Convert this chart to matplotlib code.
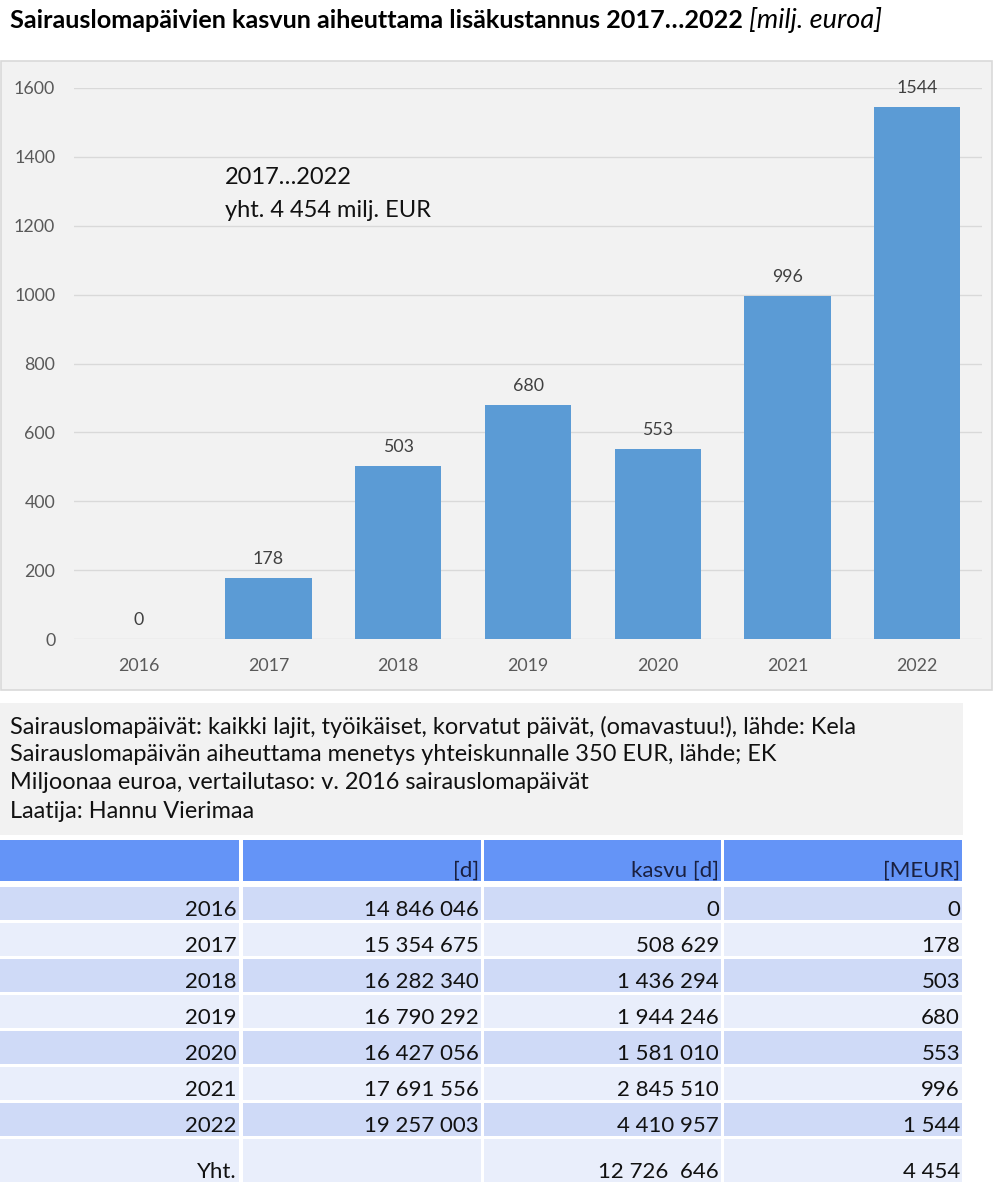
import matplotlib
matplotlib.use('Agg')
from matplotlib import pyplot as plt
from matplotlib.patches import Rectangle

plt.rcParams['font.family'] = ['Lato', 'DejaVu Sans']

# chart data
years = ['2016', '2017', '2018', '2019', '2020', '2021', '2022']
cost_meur = [0, 178, 503, 680, 553, 996, 1544]
yticks = [0, 200, 400, 600, 800, 1000, 1200, 1400, 1600]

# table data
sick_days = [14846046, 15354675, 16282340, 16790292, 16427056, 17691556, 19257003]
growth_days = [0, 508629, 1436294, 1944246, 1581010, 2845510, 4410957]
table_header = ['', '[d]', 'kasvu [d]', '[MEUR]']
total_row = ['Yht.', '', '12 726  646', '4 454']

title_bold = 'Sairauslomapäivien kasvun aiheuttama lisäkustannus 2017…2022'
title_unit = '[milj. euroa]'
note_lines = ['Sairauslomapäivät: kaikki lajit, työikäiset, korvatut päivät, (omavastuu!), lähde: Kela',
              'Sairauslomapäivän aiheuttama menetys yhteiskunnalle 350 EUR, lähde; EK',
              'Miljoonaa euroa, vertailutaso: v. 2016 sairauslomapäivät',
              'Laatija: Hannu Vierimaa']
box_text = ['2017…2022', 'yht. 4 454 milj. EUR']


def fmt(v):
    return f'{v:,}'.replace(',', ' ')


W, H = 998, 1191
fig = plt.figure(figsize=(W / 100, H / 100), dpi=100)

# background axes in pixel coordinates
bg = fig.add_axes([0, 0, 1, 1])
bg.set_xlim(0, W)
bg.set_ylim(H, 0)
bg.axis('off')

# title
t = bg.text(10, 28, title_bold, fontsize=18.2, fontweight='bold', va='baseline', ha='left')
fig.canvas.draw()
bb = t.get_window_extent()
bg.text(bb.x1 + 6, 28, title_unit, fontsize=19.5, fontstyle='italic', va='baseline', ha='left')

# chart frame
bg.add_patch(Rectangle((0.5, 61), 991.5, 629, facecolor='#f2f2f2', edgecolor='#d9d9d9', lw=1.2))

# bar chart
ax = fig.add_axes([74 / W, 1 - 639 / H, 908 / W, 551 / H])
ax.set_facecolor('none')
x = list(range(len(years)))
bars = ax.bar(x, cost_meur, width=0.665, color='#5b9bd5', zorder=3)
ax.set_xlim(-0.5, len(years) - 0.5)
ax.set_ylim(0, 1600)
ax.set_yticks(yticks)
ax.set_xticks(x)
ax.set_xticklabels(years)
ax.grid(axis='y', color='#d9d9d9', lw=1, zorder=0)
for s in ax.spines.values():
    s.set_visible(False)
ax.tick_params(length=0, labelsize=12.8, labelcolor='#595959', pad=13.5)
for xi, v in zip(x, cost_meur):
    ax.annotate(str(v), (xi, v), xytext=(0, 10), textcoords='offset points',
                ha='center', va='baseline', fontsize=12.8, color='#404040', annotation_clip=False)

bg.text(225, 184, box_text[0], fontsize=17, va='baseline', ha='left', color='#111111', zorder=5)
bg.text(225, 217, box_text[1], fontsize=17, va='baseline', ha='left', color='#111111', zorder=5)

# notes panel
bg.add_patch(Rectangle((0, 703), 963, 132, facecolor='#f2f2f2', edgecolor='none'))
for yb, line in zip([734, 761, 789, 818], note_lines):
    bg.text(10, yb, line, fontsize=16.9, va='baseline', ha='left', color='#111111')

# table
cols = [(0, 239), (243, 481), (484, 721), (724, 962)]
header_c = '#6494f7'
dark_c = '#cfdaf7'
light_c = '#e9eefb'


def cell_row(top, height, texts, color, txtcolor='#111111'):
    for (x0, x1), txt in zip(cols, texts):
        bg.add_patch(Rectangle((x0, top), x1 - x0, height, facecolor=color, edgecolor='none'))
        if txt:
            bg.text(x1 - 2, top + height - 4, txt, fontsize=16, ha='right', va='baseline', color=txtcolor)


cell_row(840, 41, table_header, header_c, '#1a2040')
for i, yr in enumerate(years):
    top = 887 + 36 * i
    texts = [yr, fmt(sick_days[i]), fmt(growth_days[i]), fmt(cost_meur[i])]
    cell_row(top, 33, texts, dark_c if i % 2 == 0 else light_c)
cell_row(1139, 43, total_row, light_c)

fig.savefig('out.png', dpi=100)
